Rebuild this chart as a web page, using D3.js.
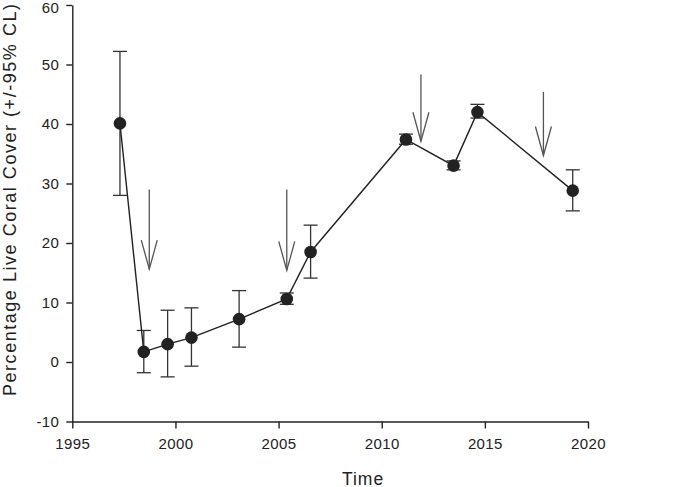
<!DOCTYPE html>
<html><head><meta charset="utf-8">
<script src="https://cdn.jsdelivr.net/npm/d3@7"></script>
<style>body{margin:0;background:#fff}svg{display:block}text{font-family:"Liberation Sans",Arial,sans-serif;fill:#222}</style>
</head><body><svg id="c" width="685" height="487"></svg>
<script>
const years = [1997, 1998, 1999, 2000, 2002, 2004, 2005, 2009, 2011, 2012, 2016];
const cover = [40.1, 1.7, 3.0, 4.1, 7.2, 10.6, 18.5, 37.4, 33.0, 42.0, 28.8];
const lower = [28.0, -1.8, -2.5, -0.7, 2.5, 9.7, 14.1, 36.6, 32.3, 41.0, 25.4];
const upper = [52.2, 5.3, 8.7, 9.1, 12.0, 11.6, 23.0, 38.3, 33.8, 43.3, 32.3];
const arrowYears = [1998.23, 2004.0, 2009.63, 2014.77];
const arrowTop = [29.0, 29.0, 48.3, 45.4];
const arrowTip = [15.6, 15.4, 37.1, 34.7];
const xTicks = [1995, 2000, 2005, 2010, 2015, 2020];
const yTicks = [-10, 0, 10, 20, 30, 40, 50, 60];

const svg = d3.select("#c");
const y = d3.scaleLinear().domain([-10, 60]).range([421.5, 5]);
const xAxisScale = d3.scaleLinear().domain([1995, 2020]).range([72.3, 588]);
// data are plotted on their own horizontal scale in the original figure
const xData = d3.scaleLinear().domain([1995, 2020]).range([72.3, 72.3 + 25 * 23.83]);

const gx = svg.append("g").attr("transform", "translate(0,421.5)")
  .call(d3.axisBottom(xAxisScale).tickValues(xTicks).tickFormat(d => String(d)).tickSize(7).tickPadding(10).tickSizeOuter(0));
const gy = svg.append("g").attr("transform", "translate(72.3,0)")
  .call(d3.axisLeft(y).tickValues(yTicks).tickFormat(d => String(d)).tickSize(6).tickPadding(7).tickSizeOuter(0));
[gx, gy].forEach(g => {
  g.select(".domain").attr("stroke", "#222").attr("stroke-width", 1.4);
  g.selectAll(".tick line").attr("stroke", "#222").attr("stroke-width", 1.4);
  g.selectAll(".tick text").style("font-size", "15px").style("letter-spacing", "0.4px").attr("fill", "#222");
});
gy.selectAll(".tick text").filter(d => d === 60).attr("dy", "0.52em");

svg.append("text").attr("x", 363).attr("y", 484.5).attr("text-anchor", "middle")
  .style("font-size", "17.5px").style("letter-spacing", "1px").text("Time");
svg.append("text").attr("transform", "translate(16,200) rotate(-90)").attr("text-anchor", "middle")
  .style("font-size", "18px").attr("textLength", 392).attr("lengthAdjust", "spacing")
  .text("Percentage Live Coral Cover (+/-95% CL)");

const data = years.map((yr, i) => ({yr, v: cover[i], lo: lower[i], hi: upper[i]}));
const eb = svg.append("g").attr("stroke", "#333").attr("stroke-width", 1.3);
data.forEach(d => {
  const cx = xData(d.yr);
  eb.append("line").attr("x1", cx).attr("x2", cx).attr("y1", y(d.lo)).attr("y2", y(d.hi));
  eb.append("line").attr("x1", cx - 7).attr("x2", cx + 7).attr("y1", y(d.lo)).attr("y2", y(d.lo));
  eb.append("line").attr("x1", cx - 7).attr("x2", cx + 7).attr("y1", y(d.hi)).attr("y2", y(d.hi));
});
svg.append("path").datum(data).attr("fill", "none").attr("stroke", "#222").attr("stroke-width", 1.4)
  .attr("d", d3.line().x(d => xData(d.yr)).y(d => y(d.v)));
svg.append("g").selectAll("circle").data(data).join("circle")
  .attr("cx", d => xData(d.yr)).attr("cy", d => y(d.v)).attr("r", 6.3).attr("fill", "#222");

const ag = svg.append("g").attr("stroke", "#555").attr("stroke-width", 1.3).attr("fill", "none");
arrowYears.forEach((yr, i) => {
  const ax = xData(yr), t = y(arrowTop[i]), p = y(arrowTip[i]);
  ag.append("line").attr("x1", ax).attr("x2", ax).attr("y1", t).attr("y2", p);
  ag.append("path").attr("d", `M${ax - 8},${p - 29}L${ax},${p}L${ax + 8},${p - 29}`);
});
</script></body></html>
